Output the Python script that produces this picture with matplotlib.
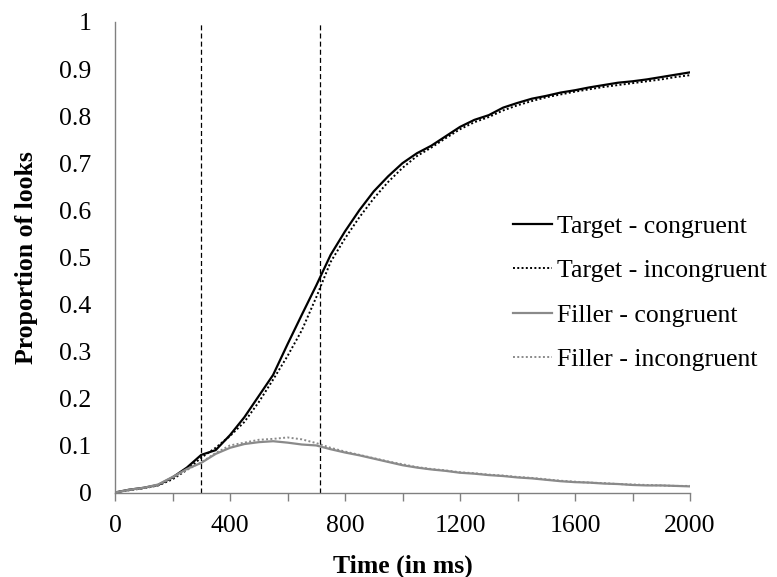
import numpy as np
import matplotlib.pyplot as plt

plt.rcParams['font.family'] = ['Liberation Serif', 'DejaVu Serif']

# time axis (ms) and proportion of looks per condition
time_ms = np.arange(0, 2001, 50)

target_congruent = [
    0.000, 0.006, 0.010, 0.016, 0.032, 0.053, 0.080, 0.090, 0.122, 0.160,
    0.205, 0.250, 0.315, 0.378, 0.440, 0.505, 0.555, 0.600, 0.640, 0.672,
    0.700, 0.721, 0.737, 0.757, 0.777, 0.792, 0.802, 0.818, 0.828, 0.837,
    0.843, 0.850, 0.855, 0.861, 0.866, 0.871, 0.874, 0.878, 0.883, 0.888,
    0.893]
target_incongruent = [
    0.000, 0.005, 0.009, 0.015, 0.028, 0.048, 0.074, 0.095, 0.120, 0.150,
    0.192, 0.240, 0.290, 0.345, 0.415, 0.490, 0.540, 0.585, 0.625, 0.660,
    0.690, 0.715, 0.733, 0.753, 0.772, 0.787, 0.798, 0.812, 0.823, 0.832,
    0.840, 0.846, 0.852, 0.857, 0.862, 0.866, 0.870, 0.874, 0.878, 0.883,
    0.887]
filler_congruent = [
    0.000, 0.006, 0.010, 0.017, 0.033, 0.050, 0.063, 0.082, 0.095, 0.103,
    0.107, 0.109, 0.106, 0.102, 0.100, 0.092, 0.085, 0.079, 0.072, 0.065,
    0.058, 0.053, 0.049, 0.046, 0.042, 0.040, 0.037, 0.035, 0.032, 0.030,
    0.027, 0.024, 0.022, 0.021, 0.019, 0.018, 0.016, 0.015, 0.015, 0.014,
    0.013]
filler_incongruent = [
    0.000, 0.005, 0.009, 0.016, 0.031, 0.048, 0.064, 0.084, 0.100, 0.106,
    0.112, 0.114, 0.117, 0.113, 0.105, 0.095, 0.087, 0.080, 0.073, 0.066,
    0.060, 0.054, 0.050, 0.047, 0.043, 0.041, 0.038, 0.036, 0.033, 0.031,
    0.028, 0.025, 0.023, 0.021, 0.020, 0.018, 0.017, 0.016, 0.015, 0.014,
    0.014]

window_marks = [300, 713]

black = 'black'
grey = '#8a8a8a'
axis_grey = '#808080'
fs = 18.5

fig = plt.figure(figsize=(7.77, 5.77), dpi=100)
ax = fig.add_axes([115 / 777, 1 - 492.5 / 577, 575 / 777, 470.5 / 577])

ax.plot(time_ms, target_congruent, color=black, lw=1.6, label='Target - congruent')
ax.plot(time_ms, target_incongruent, color=black, lw=1.4, ls=(0, (1, 1.2)),
        label='Target - incongruent')
ax.plot(time_ms, filler_congruent, color=grey, lw=1.6, label='Filler - congruent')
ax.plot(time_ms, filler_incongruent, color=grey, lw=1.4, ls=(0, (1, 1.2)),
        label='Filler - incongruent')

for t in window_marks:
    ax.axvline(t, ymin=0, ymax=1, color=black, lw=0.9, ls=(0, (4, 2.5)))

ax.set_xlim(0, 2000)
ax.set_ylim(0, 1)
ax.set_xticks(np.arange(0, 2001, 400))
ax.set_xticks(np.arange(0, 2001, 200), minor=True)
ax.set_yticks(np.arange(0, 1.01, 0.1))
ax.set_yticklabels(['0'] + ['%.1f' % v for v in np.arange(0.1, 0.95, 0.1)] + ['1'])

for s in ['top', 'right']:
    ax.spines[s].set_visible(False)
for s in ['left', 'bottom']:
    ax.spines[s].set_color(axis_grey)
    ax.spines[s].set_linewidth(1.0)

ax.tick_params(axis='x', which='both', direction='out', length=6, width=1,
               color=axis_grey, labelsize=fs, pad=10.5)
ax.tick_params(axis='y', length=0, labelsize=fs, pad=17)

ax.set_xlabel('Time (in ms)', fontsize=fs, fontweight='bold', labelpad=12)
ax.set_ylabel('Proportion of looks', fontsize=fs, fontweight='bold', labelpad=15)

ax.legend(loc='upper left', bbox_to_anchor=(513 / 777, 1 - 215 / 577),
          bbox_transform=fig.transFigure, frameon=False, fontsize=fs,
          handlelength=1.5, handletextpad=0.2, labelspacing=0.83,
          borderpad=0, borderaxespad=0)

fig.savefig('out.png', dpi=100)
